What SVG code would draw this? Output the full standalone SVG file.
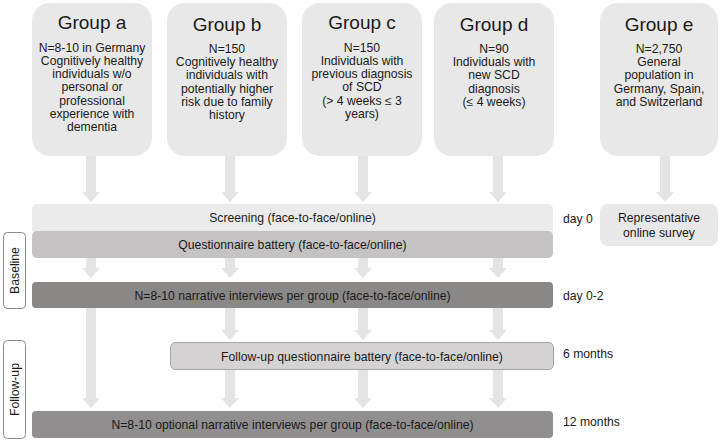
<svg xmlns="http://www.w3.org/2000/svg" width="723" height="441" viewBox="0 0 723 441">
<defs>
<style>
text{font-family:"Liberation Sans",Arial,sans-serif;fill:#1a1a1a}
.title{font-size:19px;text-anchor:middle}
.body{font-size:12.2px;text-anchor:middle}
.bar{font-size:12.2px;text-anchor:middle}
.lbl{font-size:12.2px}
.grp{fill:#e8e8e8}
.arr{fill:#e4e4e4}
.side{fill:#fff;stroke:#8a8a8a;stroke-width:1}
</style>
</defs>
<rect width="723" height="441" fill="#fff"/>
<g id="connectors">
<path class="arr" d="M86 155h10v37h4l-9 10l-9-10h4z"/>
<path class="arr" d="M225 155h10v37h4l-9 10l-9-10h4z"/>
<path class="arr" d="M358 155h10v37h4l-9 10l-9-10h4z"/>
<path class="arr" d="M493 155h10v37h4l-9 10l-9-10h4z"/>
<path class="arr" d="M660 155h10v37h4l-9 10l-9-10h4z"/>
<path class="arr" d="M86 258h10v10h4l-9 10l-9-10h4z"/>
<path class="arr" d="M225 258h10v10h4l-9 10l-9-10h4z"/>
<path class="arr" d="M358 258h10v10h4l-9 10l-9-10h4z"/>
<path class="arr" d="M493 258h10v10h4l-9 10l-9-10h4z"/>
<path class="arr" d="M86 308h10v90h4l-9 10l-9-10h4z"/>
<path class="arr" d="M225 308h10v22h4l-9 10l-9-10h4z"/>
<path class="arr" d="M358 308h10v22h4l-9 10l-9-10h4z"/>
<path class="arr" d="M493 308h10v22h4l-9 10l-9-10h4z"/>
<path class="arr" d="M225 370h10v28h4l-9 10l-9-10h4z"/>
<path class="arr" d="M358 370h10v28h4l-9 10l-9-10h4z"/>
<path class="arr" d="M493 370h10v28h4l-9 10l-9-10h4z"/>
</g>
<g id="group-a">
<rect class="grp" x="32" y="3" width="120" height="153" rx="18"/>
<text class="title" x="92" y="29">Group a</text>
<text class="body" x="92" y="51.5">N=8-10 in Germany</text>
<text class="body" x="92" y="64.8">Cognitively healthy</text>
<text class="body" x="92" y="78.1">individuals w/o</text>
<text class="body" x="92" y="91.4">personal or</text>
<text class="body" x="92" y="104.7">professional</text>
<text class="body" x="92" y="118">experience with</text>
<text class="body" x="92" y="131.3">dementia</text>
</g>
<g id="group-b">
<rect class="grp" x="167" y="3" width="120" height="153" rx="18"/>
<text class="title" x="227" y="31">Group b</text>
<text class="body" x="227" y="52.6">N=150</text>
<text class="body" x="227" y="65.9">Cognitively healthy</text>
<text class="body" x="227" y="79.2">individuals with</text>
<text class="body" x="227" y="92.5">potentially higher</text>
<text class="body" x="227" y="105.8">risk due to family</text>
<text class="body" x="227" y="119.1">history</text>
</g>
<g id="group-c">
<rect class="grp" x="302" y="3" width="120" height="153" rx="18"/>
<text class="title" x="362" y="29">Group c</text>
<text class="body" x="362" y="51.5">N=150</text>
<text class="body" x="362" y="64.8">Individuals with</text>
<text class="body" x="362" y="78.1">previous diagnosis</text>
<text class="body" x="362" y="91.4">of SCD</text>
<text class="body" x="362" y="104.7">(&gt; 4 weeks ≤ 3</text>
<text class="body" x="362" y="118">years)</text>
</g>
<g id="group-d">
<rect class="grp" x="434" y="3" width="120" height="153" rx="18"/>
<text class="title" x="494" y="31">Group d</text>
<text class="body" x="494" y="52.6">N=90</text>
<text class="body" x="494" y="65.9">Individuals with</text>
<text class="body" x="494" y="79.2">new SCD</text>
<text class="body" x="494" y="92.5">diagnosis</text>
<text class="body" x="494" y="105.8">(≤ 4 weeks)</text>
</g>
<g id="group-e">
<rect class="grp" x="600" y="3" width="118" height="153" rx="18"/>
<text class="title" x="659" y="31">Group e</text>
<text class="body" x="659" y="52.6">N=2,750</text>
<text class="body" x="659" y="65.9">General</text>
<text class="body" x="659" y="79.2">population in</text>
<text class="body" x="659" y="92.5">Germany, Spain,</text>
<text class="body" x="659" y="105.8">and Switzerland</text>
</g>
<g id="screening">
<rect x="32" y="204" width="521" height="30" rx="5" fill="#ebebeb"/>
<text class="bar" x="292.5" y="222">Screening (face-to-face/online)</text>
</g>
<g id="questionnaire">
<rect x="32" y="231" width="521" height="27" rx="5" fill="#c4c2c2"/>
<text class="bar" x="292.5" y="249">Questionnaire battery (face-to-face/online)</text>
</g>
<g id="narrative">
<rect x="32" y="282" width="521" height="26" rx="4" fill="#8a8787"/>
<text class="bar" x="292.5" y="299.5">N=8-10 narrative interviews per group (face-to-face/online)</text>
</g>
<g id="followup-questionnaire">
<rect x="170.5" y="342.5" width="383" height="27" rx="5" fill="#d4d2d2" stroke="#a3a3a3" stroke-width="1"/>
<text class="bar" x="362" y="360.5">Follow-up questionnaire battery (face-to-face/online)</text>
</g>
<g id="optional-narrative">
<rect x="32" y="411" width="521" height="27" rx="4" fill="#908e8e"/>
<text class="bar" x="292.5" y="429">N=8-10 optional narrative interviews per group (face-to-face/online)</text>
</g>
<g id="survey">
<rect x="600" y="204" width="118" height="42" rx="8" fill="#e8e8e8"/>
<text class="body" x="659" y="222">Representative</text>
<text class="body" x="659" y="236.5">online survey</text>
</g>
<g id="baseline">
<rect class="side" x="3.5" y="232.5" width="22" height="76" rx="4"/>
<text class="lbl" transform="translate(19,270.5) rotate(-90)" text-anchor="middle">Baseline</text>
</g>
<g id="followup">
<rect class="side" x="3.5" y="340.5" width="22" height="98" rx="4"/>
<text class="lbl" transform="translate(19,389.5) rotate(-90)" text-anchor="middle">Follow-up</text>
</g>
<g id="timeline">
<text class="lbl" x="563" y="223">day 0</text>
<text class="lbl" x="563" y="300">day 0-2</text>
<text class="lbl" x="563" y="358">6 months</text>
<text class="lbl" x="563" y="426">12 months</text>
</g>
</svg>
